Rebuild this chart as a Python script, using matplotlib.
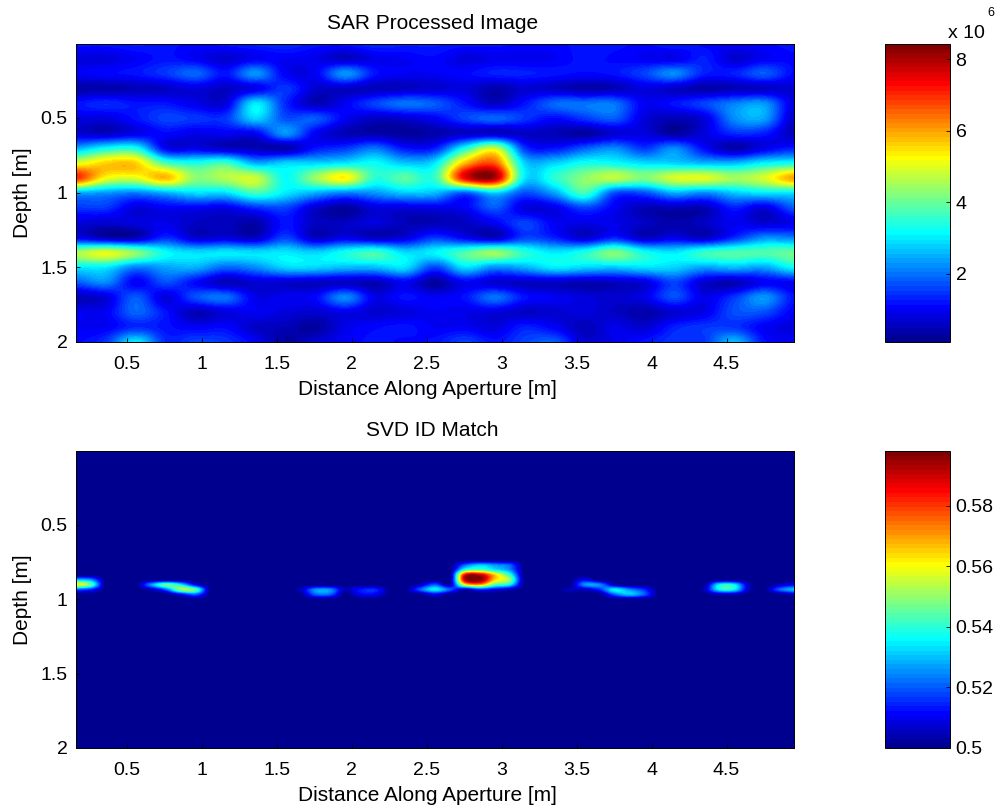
import numpy as np
import matplotlib
matplotlib.use('Agg')
from matplotlib import pyplot as plt
from matplotlib.colors import LinearSegmentedColormap

plt.rcParams['font.family'] = ['Liberation Sans', 'DejaVu Sans']

# SAR image, millions, 21 depths by 25 positions along the aperture
sar_values = [
    [1.2,1.2,1.3,1.2,1.1,1.2,1.3,1.4,1.2,1.2,1.4,1.3,1.3,1.2,1.2,1.1,1.1,1.2,1.2,1.1,1.3,1.1,1.0,1.1,1.2],
    [0.8,0.8,1.0,1.2,1.0,0.7,1.0,1.0,0.9,0.6,0.9,1.0,1.1,0.8,0.9,0.9,1.0,1.2,1.1,1.0,0.9,1.3,0.7,1.0,1.1],
    [1.0,1.1,1.2,1.5,1.9,1.2,2.3,1.0,1.0,2.3,1.2,1.0,1.0,1.1,1.3,1.3,1.2,1.1,1.2,1.6,2.2,1.3,1.3,1.8,1.1],
    [0.4,0.4,0.5,0.6,0.8,0.6,0.9,1.5,0.7,0.6,0.5,0.6,0.7,0.8,0.4,0.7,0.6,0.4,0.5,0.8,0.6,0.4,0.5,0.6,0.7],
    [1.2,1.4,1.2,1.2,0.9,0.8,3.0,1.4,0.5,1.0,1.6,2.0,1.8,1.2,0.6,1.2,1.9,2.0,2.0,1.0,1.2,1.6,2.1,2.3,0.8],
    [0.9,0.8,1.2,1.6,1.5,1.5,2.8,1.7,1.8,1.0,0.6,0.7,1.0,1.6,1.9,1.5,1.1,1.5,1.8,0.8,0.5,0.8,2.2,2.4,0.6],
    [0.7,0.6,0.9,1.1,0.9,1.0,1.0,2.3,1.0,0.5,0.4,0.3,0.4,0.6,0.6,0.6,0.5,0.3,0.7,0.8,0.3,0.8,1.4,1.3,0.5],
    [2.5,3.2,3.3,1.0,0.9,0.6,0.5,0.4,1.2,1.5,2.0,1.2,1.3,3.3,4.8,1.5,1.2,1.8,2.2,1.5,2.2,1.1,0.4,0.9,1.3],
    [5.0,5.6,5.6,3.8,3.4,3.7,2.5,2.8,2.8,3.0,3.2,2.7,3.0,5.8,6.6,2.8,2.8,3.3,3.2,2.9,2.8,2.6,2.6,3.1,3.3],
    [7.0,5.2,5.0,5.8,4.3,4.6,4.8,3.2,4.4,5.3,3.5,3.9,3.6,7.4,8.0,3.0,3.5,4.3,4.7,4.2,4.9,5.0,4.5,4.9,6.0],
    [2.5,2.3,2.1,2.5,2.9,2.9,3.7,3.0,2.5,2.1,2.3,2.7,2.6,1.8,2.8,1.7,2.4,3.7,1.7,1.7,2.5,2.2,2.7,3.0,3.0],
    [1.5,1.5,0.8,1.0,1.0,0.9,1.4,1.6,0.7,0.3,0.8,0.8,0.9,1.0,1.8,0.8,0.9,1.6,1.0,0.5,0.5,0.5,1.3,0.8,1.8],
    [0.8,0.7,0.8,0.9,0.6,0.6,0.4,1.2,0.6,0.6,0.8,0.5,0.5,0.6,1.0,1.6,1.0,0.9,0.9,0.6,0.4,0.6,1.0,0.7,0.9],
    [1.0,0.5,0.5,1.4,0.7,0.8,0.6,1.6,0.6,0.9,0.6,0.8,1.5,1.0,0.6,1.6,1.3,0.7,1.3,0.6,0.9,0.6,1.4,2.2,2.1],
    [4.5,5.0,4.3,3.2,2.9,3.0,2.9,3.0,2.8,3.3,3.7,2.9,3.1,3.8,4.4,3.5,3.0,3.4,4.2,3.3,3.0,3.6,3.8,3.8,4.0],
    [3.0,3.0,2.1,2.4,2.5,1.9,2.2,2.8,2.8,2.6,2.6,2.9,1.6,2.9,2.2,2.5,3.0,2.8,2.7,2.9,2.8,2.4,2.6,2.4,3.2],
    [1.8,2.2,1.0,1.7,1.1,0.5,0.7,0.7,0.6,0.6,0.5,1.0,0.3,1.0,0.7,0.6,0.6,0.5,0.6,0.8,1.6,0.7,0.5,1.0,1.0],
    [0.5,0.8,1.8,0.8,1.7,2.0,0.9,1.0,1.1,2.2,0.9,1.2,1.0,1.2,2.0,1.2,1.0,0.8,0.7,0.9,1.7,0.9,1.5,2.3,1.2],
    [1.0,1.0,1.9,1.2,0.5,0.8,1.0,0.8,0.7,0.9,0.7,0.8,1.0,0.9,0.8,0.6,0.7,0.8,0.6,0.4,0.7,0.9,1.7,1.7,1.0],
    [1.0,1.0,1.4,1.2,1.0,1.1,0.6,0.5,0.3,0.9,1.1,1.2,1.0,1.0,0.8,1.3,1.0,0.5,0.9,0.7,1.3,1.5,1.5,1.0,0.8],
    [1.1,1.5,3.0,1.4,1.6,1.5,1.0,0.3,0.7,1.0,1.2,1.1,1.2,1.6,1.2,1.6,1.8,0.7,0.9,1.2,1.5,1.5,2.6,1.2,1.0],
]

# SVD match, only the band that holds anything above the 0.5 floor, 49 positions
svd_floor = 0.5
svd_band_start = 23
svd_band = [
    [.5,.5,.5,.5,.5,.5,.5,.5,.5,.5,.5,.5,.5,.5,.5,.5,.5,.5,.5,.5,.5,.5,.5,.5,.5,.5,.52,.53,.525,.52,.5,.5,.5,.5,.5,.5,.5,.5,.5,.5,.5,.5,.5,.5,.5,.5,.5,.5,.5],
    [.5,.5,.5,.5,.5,.5,.5,.5,.5,.5,.5,.5,.5,.5,.5,.5,.5,.5,.5,.5,.5,.5,.5,.5,.5,.5,.54,.545,.535,.525,.5,.5,.5,.5,.5,.5,.5,.5,.5,.5,.5,.5,.5,.5,.5,.5,.5,.5,.5],
    [.5,.5,.5,.5,.5,.5,.5,.5,.5,.5,.5,.5,.5,.5,.5,.5,.5,.5,.5,.5,.5,.5,.5,.5,.5,.5,.585,.59,.565,.54,.5,.5,.5,.5,.5,.5,.5,.5,.5,.5,.5,.5,.5,.5,.5,.5,.5,.5,.5],
    [.53,.525,.5,.5,.5,.5,.5,.5,.5,.5,.5,.5,.5,.5,.5,.5,.5,.5,.5,.5,.5,.5,.5,.5,.5,.5,.59,.597,.565,.55,.5,.5,.5,.5,.51,.5,.5,.5,.5,.5,.5,.5,.5,.5,.5,.5,.5,.5,.5],
    [.56,.545,.5,.5,.5,.525,.545,.535,.51,.5,.5,.5,.5,.5,.5,.5,.5,.5,.5,.5,.5,.5,.5,.505,.52,.505,.56,.57,.545,.535,.5,.5,.5,.5,.525,.525,.505,.5,.5,.5,.5,.5,.5,.535,.535,.505,.5,.505,.51],
    [.52,.515,.5,.5,.5,.505,.52,.55,.545,.5,.5,.5,.5,.5,.5,.505,.525,.525,.505,.513,.515,.5,.5,.52,.535,.52,.505,.515,.51,.505,.5,.5,.5,.505,.505,.515,.535,.525,.515,.5,.5,.5,.505,.535,.535,.505,.5,.52,.53],
    [.5,.5,.5,.5,.5,.5,.5,.51,.52,.5,.5,.5,.5,.5,.5,.5,.52,.52,.5,.51,.51,.5,.5,.5,.51,.5,.5,.5,.5,.5,.5,.5,.5,.5,.5,.5,.52,.53,.52,.5,.5,.5,.5,.505,.505,.5,.5,.5,.505],
]
svd_rows = 61

x_ticks = [0.5, 1, 1.5, 2, 2.5, 3, 3.5, 4, 4.5]
x_tick_labels = ['0.5', '1', '1.5', '2', '2.5', '3', '3.5', '4', '4.5']
y_ticks = [0.5, 1, 1.5, 2]
y_tick_labels = ['0.5', '1', '1.5', '2']
sar_cbar_ticks = [2, 4, 6, 8]
sar_cbar_labels = ['2', '4', '6', '8']
svd_cbar_ticks = [0.5, 0.52, 0.54, 0.56, 0.58]
svd_cbar_labels = ['0.5', '0.52', '0.54', '0.56', '0.58']

# same anchors as the old 64 step jet, it starts and ends lighter than the mpl one
jet64 = LinearSegmentedColormap.from_list('jet64', [
    (0, (0, 0, 0.5625)), (7/63, (0, 0, 1)), (23/63, (0, 1, 1)),
    (39/63, (1, 1, 0)), (55/63, (1, 0, 0)), (1, (0.5, 0, 0))], N=64)

W, H = 998, 808
xmin, xmax = 0.16, 4.95
ymin, ymax = 0.005, 2


def box(left, top, right, bottom):
    return [left/W, 1-bottom/H, (right-left)/W, (bottom-top)/H]


def panel(fig, pos, cpos, values, vmin, vmax, title, cticks, clabels):
    ax = fig.add_axes(box(*pos))
    values = np.array(values)
    dx = (xmax-xmin)/(values.shape[1]-1)
    dy = (ymax-ymin)/(values.shape[0]-1)
    # catrom goes through the values, agg's bicubic blurs them
    im = ax.imshow(values, cmap=jet64, vmin=vmin, vmax=vmax, aspect='auto',
                   interpolation='catrom', origin='upper',
                   extent=[xmin-dx/2, xmax+dx/2, ymax+dy/2, ymin-dy/2])
    ax.set_xlim(xmin, xmax)
    ax.set_ylim(ymax, ymin)
    ax.set_xticks(x_ticks, x_tick_labels)
    ax.set_yticks(y_ticks, y_tick_labels)
    ax.tick_params(direction='in', length=3, width=0.6, labelsize=14, pad=10)
    ax.tick_params(axis='y', pad=6)
    ax.set_xlabel('Distance Along Aperture [m]', fontsize=15, labelpad=5, x=0.489)
    ax.set_ylabel('Depth [m]', fontsize=15, labelpad=6)
    ax.set_title(title, fontsize=15, pad=11, x=0.496)
    cax = fig.add_axes(box(*cpos))
    cb = fig.colorbar(im, cax=cax)
    cb.set_ticks(cticks, labels=clabels)
    cax.tick_params(direction='in', length=3, width=0.6, labelsize=14, pad=4)
    for a in (ax, cax):
        for s in a.spines.values():
            s.set_linewidth(0.7)
    cb.outline.set_linewidth(0.7)
    return ax, cax


fig = plt.figure(figsize=(W/100, H/100), dpi=100)

panel(fig, (76, 44, 794, 342), (885, 44, 950, 342), sar_values, 0.1, 8.42,
      'SAR Processed Image', sar_cbar_ticks, sar_cbar_labels)

svd_values = np.full((svd_rows, len(svd_band[0])), svd_floor)
svd_values[svd_band_start:svd_band_start+len(svd_band)] = svd_band
panel(fig, (76, 451, 794, 748), (885, 451, 950, 748), svd_values, 0.5, 0.598,
      'SVD ID Match', svd_cbar_ticks, svd_cbar_labels)

# the matlab style exponent above the colorbar
fig.text(948/W, 1-38/H, 'x 10', fontsize=14, ha='left', va='baseline')
fig.text(987/W, 1-16/H, '6', fontsize=9, ha='left', va='baseline')

fig.savefig('out.png', dpi=100)
